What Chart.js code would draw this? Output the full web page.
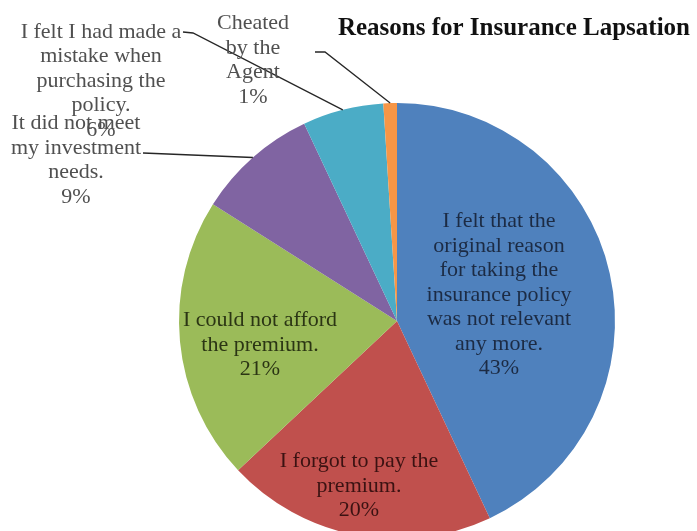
<!DOCTYPE html>
<html>
<head>
<meta charset="utf-8">
<script src="https://cdn.jsdelivr.net/npm/chart.js@4"></script>
<style>
  html, body { margin: 0; padding: 0; background: #fff; overflow: hidden; }
</style>
</head>
<body>
<canvas id="chart" width="697" height="531" style="width:697px;height:531px"></canvas>
<script>
const categories = [
  ["I felt that the", "original reason", "for taking the", "insurance policy", "was not relevant", "any more."],
  ["I forgot to pay the", "premium."],
  ["I could not afford", "the premium."],
  ["It did not meet", "my investment", "needs."],
  ["I felt I had made a", "mistake when", "purchasing the", "policy."],
  ["Cheated", "by the", "Agent"]
];
const values = [43, 20, 21, 9, 6, 1];
const colors = ["#4f81bd", "#c0504d", "#9bbb59", "#8064a2", "#4bacc6", "#f79646"];

// label placement, px from pie centre
const labelLayout = [
  { inside: true, dx: 102, dy: -26, color: "#1c2b44" },
  { inside: true, dx: -38, dy: 165, color: "#3b1212" },
  { inside: true, dx: -137, dy: 24, color: "#2b3514" },
  { inside: false, dx: -321, dy: -161, lx: -254, ly: -168, ex: -254, ey: -168, color: "#505050" },
  { inside: false, dx: -296, dy: -240, lx: -214, ly: -289, ex: -204, ey: -288, color: "#505050" },
  { inside: false, dx: -144, dy: -261, lx: -82, ly: -269, ex: -72, ey: -269, color: "#505050" }
];

const FONT = "'Liberation Serif', 'Times New Roman', serif";

const sliceLabels = {
  id: "sliceLabels",
  afterDatasetsDraw(chart) {
    const ctx = chart.ctx;
    const meta = chart.getDatasetMeta(0);
    ctx.save();
    ctx.font = "22px " + FONT;
    ctx.textAlign = "center";
    ctx.textBaseline = "middle";
    meta.data.forEach((arc, i) => {
      const p = arc.getProps(["x", "y", "startAngle", "endAngle", "outerRadius"], true);
      const lay = labelLayout[i];
      const lines = categories[i].concat([values[i] + "%"]);
      const lh = 24.5;
      const cx = p.x + lay.dx;
      const cy = p.y + lay.dy;
      const top = cy - (lines.length - 1) * lh / 2;
      ctx.fillStyle = lay.color;
      lines.forEach((t, k) => ctx.fillText(t, cx, top + k * lh));
      if (!lay.inside) {
        const mid = (p.startAngle + p.endAngle) / 2;
        const ax = p.x + p.outerRadius * Math.cos(mid);
        const ay = p.y + p.outerRadius * Math.sin(mid);
        ctx.beginPath();
        ctx.strokeStyle = "#262626";
        ctx.lineWidth = 1.3;
        ctx.moveTo(p.x + lay.lx, p.y + lay.ly);
        ctx.lineTo(p.x + lay.ex, p.y + lay.ey);
        ctx.lineTo(ax, ay);
        ctx.stroke();
      }
    });
    ctx.restore();
  }
};

new Chart(document.getElementById("chart"), {
  type: "pie",
  data: {
    labels: categories,
    datasets: [{
      data: values,
      backgroundColor: colors,
      borderWidth: 0,
      hoverOffset: 0,
      clip: false
    }]
  },
  options: {
    responsive: false,
    animation: false,
    radius: 218,
    layout: { padding: { top: 0, left: 104, right: 7, bottom: 0 } },
    plugins: {
      legend: { display: false },
      tooltip: { enabled: false },
      title: {
        display: true,
        text: "Reasons for Insurance Lapsation",
        align: "end",
        color: "#111",
        font: { family: FONT, size: 25, weight: "bold", lineHeight: 1.2 },
        padding: { top: 14, bottom: 67 }
      }
    }
  },
  plugins: [sliceLabels]
});
</script>
</body>
</html>
